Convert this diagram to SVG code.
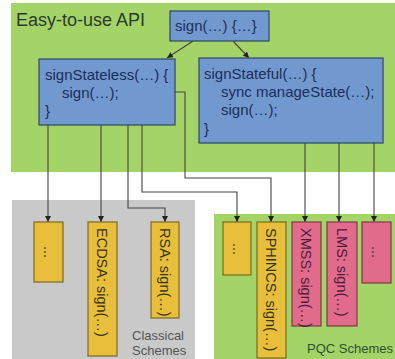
<svg xmlns="http://www.w3.org/2000/svg" width="395" height="359" viewBox="0 0 395 359">
<defs>
<style>
text{font-family:"Liberation Sans",Arial,sans-serif}
.api{fill:#a4d468}
.cls{fill:#c9c9c9}
.blue{fill:#7199d0;stroke:#344f66;stroke-width:1.3}
.yel{fill:#e8bf3a;stroke:#7a6a20;stroke-width:1.2}
.pink{fill:#e26a8b;stroke:#7c3a49;stroke-width:1.2}
.bt{font-size:15px;fill:#1d2d5a}
.yt{font-size:14.5px;fill:#3a3320}
.pt{font-size:14.5px;fill:#4a1d3c}
.lbl{font-size:13px;fill:#555}
.pq{font-size:13px;fill:#2f4f2f}
.con{fill:none;stroke:#444;stroke-width:1.1}
</style>
<marker id="ah" viewBox="0 0 10 10" refX="10" refY="5" markerWidth="6" markerHeight="6" orient="auto" markerUnits="userSpaceOnUse">
<path d="M0,0 L10,5 L0,10 z" fill="#222"/>
</marker>
</defs>

<rect class="api" x="11" y="3" width="384" height="169"/>
<rect class="cls" x="12" y="200" width="183" height="159"/>
<rect class="api" x="214" y="214" width="181" height="145"/>
<text x="16" y="26" style="font-size:18px;fill:#2a3a2a">Easy-to-use API</text>
<text x="132" y="340" class="lbl">Classical</text>
<text x="132" y="355" class="lbl">Schemes</text>
<text x="307" y="353" class="pq">PQC Schemes</text>

<g id="connectors">
<path class="con" d="M193,41 L167,58" marker-end="url(#ah)"/>
<path class="con" d="M233,41 L249,58" marker-end="url(#ah)"/>
<path class="con" d="M48,125 V222" marker-end="url(#ah)"/>
<path class="con" d="M101,125 V222" marker-end="url(#ah)"/>
<path class="con" d="M128,125 V208 H165 V222" marker-end="url(#ah)"/>
<path class="con" d="M142,125 V192 H237 V222" marker-end="url(#ah)"/>
<path class="con" d="M175,92 H185 V178 H271 V222" marker-end="url(#ah)"/>
<path class="con" d="M305,143 V222" marker-end="url(#ah)"/>
<path class="con" d="M339,143 V222" marker-end="url(#ah)"/>
<path class="con" d="M374,143 V222" marker-end="url(#ah)"/>
</g>

<g id="sign">
<rect class="blue" x="170" y="11" width="99" height="30"/>
<text x="175" y="31" class="bt">sign(…) {…}</text>
</g>

<g id="signStateless">
<rect class="blue" x="39" y="59" width="136" height="66"/>
<text x="45" y="80" class="bt">signStateless(…) {</text>
<text x="62" y="98" class="bt">sign(…);</text>
<text x="45" y="116" class="bt">}</text>
</g>

<g id="signStateful">
<rect class="blue" x="199" y="58" width="184" height="85"/>
<text x="204" y="79" class="bt">signStateful(…) {</text>
<text x="221" y="97" class="bt">sync manageState(…);</text>
<text x="221" y="115" class="bt">sign(…);</text>
<text x="204" y="134" class="bt">}</text>
</g>

<g id="classical-dots">
<rect class="yel" x="34" y="222" width="29" height="60"/>
<text class="yt" transform="translate(44,252) rotate(90)" text-anchor="middle">...</text>
</g>
<g id="ecdsa">
<rect class="yel" x="88" y="222" width="29" height="134"/>
<text class="yt" transform="translate(97,228) rotate(90)">ECDSA: sign(…)</text>
</g>
<g id="rsa">
<rect class="yel" x="151" y="222" width="28" height="96"/>
<text class="yt" transform="translate(160,228) rotate(90)">RSA: sign(…)</text>
</g>

<g id="pqc-dots">
<rect class="yel" x="223" y="222" width="28" height="53"/>
<text class="yt" transform="translate(233,249) rotate(90)" text-anchor="middle">...</text>
</g>
<g id="sphincs">
<rect class="yel" x="257" y="222" width="29" height="136"/>
<text class="yt" transform="translate(266,228) rotate(90)">SPHINCS: sign(…)</text>
</g>
<g id="xmss">
<rect class="pink" x="292" y="222" width="29" height="104"/>
<text class="pt" transform="translate(301,228) rotate(90)">XMSS: sign(…)</text>
</g>
<g id="lms">
<rect class="pink" x="327" y="222" width="30" height="104"/>
<text class="pt" transform="translate(337,228) rotate(90)">LMS: sign(…)</text>
</g>
<g id="pqc-dots2">
<rect class="pink" x="362" y="222" width="29" height="61"/>
<text class="pt" transform="translate(372,252) rotate(90)" text-anchor="middle">...</text>
</g>
</svg>
